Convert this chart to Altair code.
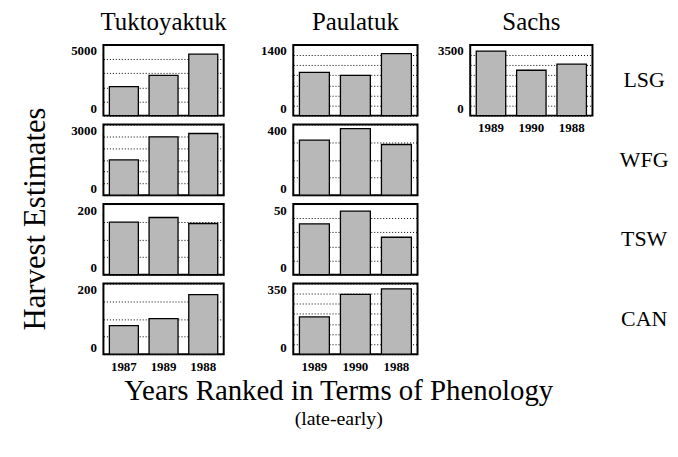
import altair as alt
import pandas as pd

SERIF = "Liberation Serif"

# ---- data ----
years_tuk = ["1987", "1989", "1988"]
years_pau = ["1989", "1990", "1988"]
years_sachs = ["1989", "1990", "1988"]

tuk_lsg = [2050, 2850, 4350]
tuk_wfg = [1500, 2480, 2620]
tuk_tsw = [149, 162, 145]
tuk_can = [81, 101, 169]

pau_lsg = [860, 800, 1230]
pau_wfg = [312, 377, 287]
pau_tsw = [36, 45, 26.5]
pau_can = [185, 297, 324]

sachs_lsg = [3200, 2250, 2550]

species = ["LSG", "WFG", "TSW", "CAN"]
columns = ["Tuktoyaktuk", "Paulatuk", "Sachs"]
y_title = "Harvest Estimates"
x_title = "Years Ranked in Terms of Phenology"
x_subtitle = "(late-early)"

BAR_FILL = "#b8b8b8"
PANEL_H = 71


def bar_panel(years, values, ymax, step, width, extent, show_x=False):
    df = pd.DataFrame({"year": years, "value": values})
    ticks = [i * step for i in range(int(round(ymax / step)) + 1)]
    yaxis = alt.Axis(
        values=ticks, format="d",
        labelExpr=f"(datum.value == 0 || datum.value == {ymax}) ? datum.label : ''",
        grid=True, gridColor="black", gridDash=[1, 2], gridWidth=1, gridOpacity=1,
        ticks=False, domain=False,
        labelFont=SERIF, labelFontSize=13, labelFontWeight="bold", labelColor="black",
        labelPadding=7, labelFlush=True, labelOverlap=False,
        minExtent=extent, title=None,
    )
    if show_x:
        xaxis = alt.Axis(
            labelAngle=0, ticks=False, domain=False, grid=False,
            labelFont=SERIF, labelFontSize=13, labelFontWeight="bold", labelColor="black",
            labelPadding=6, title=None,
        )
    else:
        xaxis = None
    ch = alt.Chart(df).mark_bar(fill=BAR_FILL, stroke="black", strokeWidth=1.3).encode(
        x=alt.X("year:N", sort=years, axis=xaxis,
                scale=alt.Scale(paddingInner=0.27, paddingOuter=0.15)),
        y=alt.Y("value:Q", axis=yaxis, scale=alt.Scale(domain=[0, ymax], nice=False)),
    )
    return ch


def col_title(text):
    return alt.TitleParams(text, frame="group", anchor="middle", font=SERIF,
                           fontSize=25, fontWeight="normal", color="black", offset=10)


def label_layer(text, xpos):
    return alt.Chart(pd.DataFrame({"t": [text]})).mark_text(
        font=SERIF, fontSize=22, color="black", align="center", baseline="middle"
    ).encode(text="t:N", x=alt.value(xpos), y=alt.value(PANEL_H / 2))


TW, PW, SW = 121, 125, 123
TE, PE, SE = 40, 65, 51

tuk_col = alt.vconcat(
    bar_panel(years_tuk, tuk_lsg, 5000, 1000, TW, TE).properties(
        width=TW, height=PANEL_H, title=col_title(columns[0])),
    bar_panel(years_tuk, tuk_wfg, 3000, 500, TW, TE).properties(width=TW, height=PANEL_H),
    bar_panel(years_tuk, tuk_tsw, 200, 50, TW, TE).properties(width=TW, height=PANEL_H),
    bar_panel(years_tuk, tuk_can, 200, 50, TW, TE, show_x=True).properties(width=TW, height=PANEL_H),
    spacing=9, bounds="flush",
)

pau_col = alt.vconcat(
    bar_panel(years_pau, pau_lsg, 1400, 200, PW, PE).properties(
        width=PW, height=PANEL_H, title=col_title(columns[1])),
    bar_panel(years_pau, pau_wfg, 400, 100, PW, PE).properties(width=PW, height=PANEL_H),
    bar_panel(years_pau, pau_tsw, 50, 10, PW, PE).properties(width=PW, height=PANEL_H),
    bar_panel(years_pau, pau_can, 350, 50, PW, PE, show_x=True).properties(width=PW, height=PANEL_H),
    spacing=9, bounds="flush",
)

LX = 175
blank_view = alt.ViewBackground(stroke="transparent")
sachs_col = alt.vconcat(
    alt.layer(
        bar_panel(years_sachs, sachs_lsg, 3500, 500, SW, SE, show_x=True),
        label_layer(species[0], LX),
    ).properties(width=SW, height=PANEL_H, title=col_title(columns[2])),
    label_layer(species[1], LX).properties(width=SW, height=PANEL_H, view=blank_view),
    label_layer(species[2], LX).properties(width=SW, height=PANEL_H, view=blank_view),
    label_layer(species[3], LX).properties(width=SW, height=PANEL_H, view=blank_view),
    spacing=9, bounds="flush",
)

ytitle = alt.Chart(pd.DataFrame({"t": [y_title]})).mark_text(
    angle=270, font=SERIF, fontSize=31, color="black", align="center", baseline="middle"
).encode(text="t:N", x=alt.value(27), y=alt.value(175)).properties(
    width=53, height=316, view=blank_view)

chart = alt.hconcat(
    ytitle, tuk_col, pau_col, sachs_col, spacing=0,
).properties(
    title=alt.TitleParams(
        x_title, subtitle=x_subtitle, orient="bottom", anchor="middle",
        font=SERIF, fontSize=29, fontWeight="normal", color="black",
        subtitleFont=SERIF, subtitleFontSize=20, subtitleColor="black",
        subtitlePadding=3, offset=3,
    ),
    padding={"left": 0, "top": 0, "right": 0, "bottom": 0},
    background="white",
).configure(font=SERIF).configure_view(stroke="black", strokeWidth=2)

chart.save("out.html", embed_options={"renderer": "svg", "actions": False})
